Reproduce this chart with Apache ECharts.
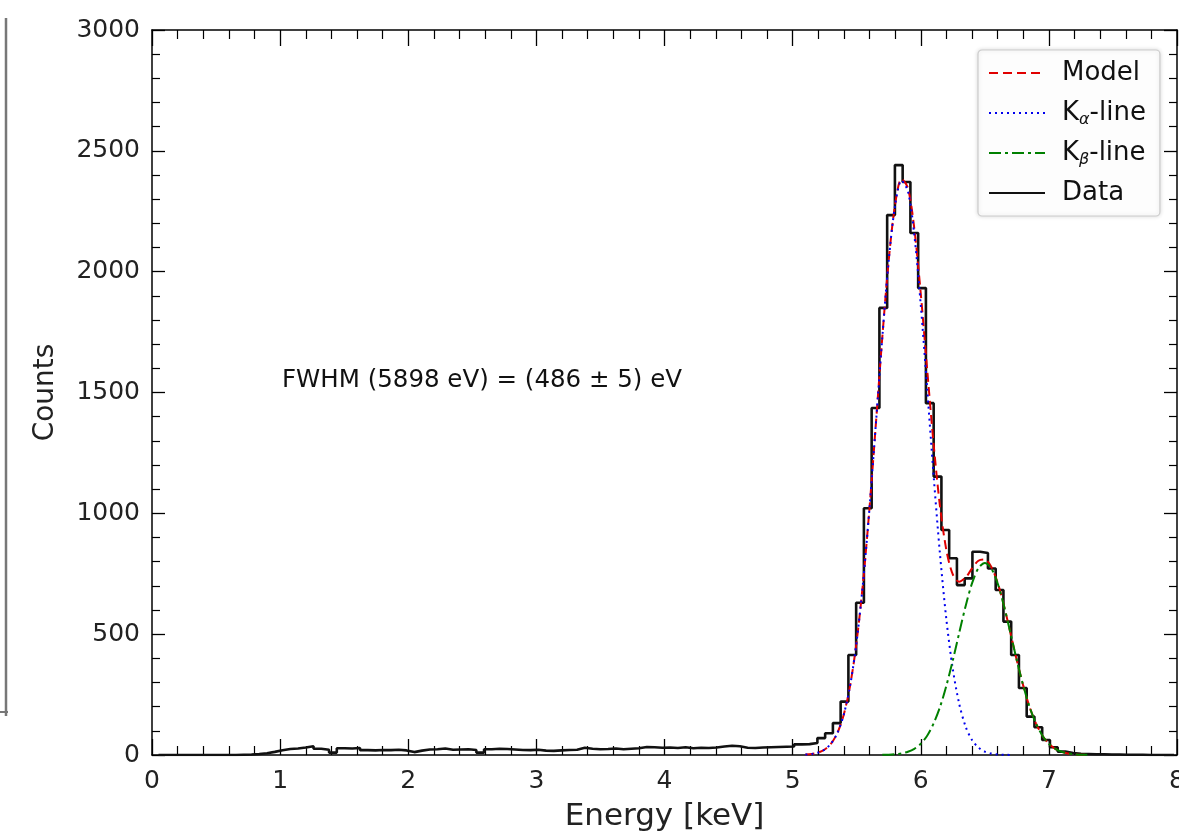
<!DOCTYPE html>
<html><head><meta charset="utf-8">
<script src="https://cdn.jsdelivr.net/npm/echarts@6/dist/echarts.min.js"></script>
<style>html,body{margin:0;padding:0;background:#fff}#c{width:1179px;height:840px}</style>
</head><body><div id="c"></div>
<script>
// ---- data ----
const binStart = 0.0508;   // keV, left edge of first histogram bin
const binWidth = 0.0605;   // keV
const counts = [
  0,0,0,0,0,0,0,0,0,0,
  1,2,4,7,13,20,25,27,31,36,
  26,22,10,28,27,29,20,19,21,20,
  22,19,12,18,23,24,27,22,23,24,
  21,10,24,26,25,23,21,20,22,18,
  17,19,21,22,30,26,24,25,27,24,
  26,28,33,32,30,31,29,32,28,30,
  29,31,35,38,36,30,29,31,32,33,
  34,35,44,45,50,70,90,132,221,414,
  630,1021,1436,1850,2234,2441,2371,2160,1932,1456,
  1152,931,814,703,731,841,836,772,683,552,
  414,277,159,115,62,32,14,8,5,4,
  3,3,2,2,1,1,1,0,0,0,0
];
const curveEnergy = [5.10,5.15,5.20,5.25,5.30,5.35,5.40,5.45,5.50,5.55,5.60,5.65,5.70,5.75,5.80,5.85,5.90,5.95,6.00,6.05,6.10,6.15,6.20,6.25,6.30,6.35,6.40,6.45,6.50,6.55,6.60,6.65,6.70,6.75,6.80,6.85,6.90,6.95,7.00,7.05,7.10,7.15,7.20,7.25,7.30];
const kAlpha = [1.7,4.4,10.3,22.7,47.2,92,169,291,471,716,1022,1372,1728,2046,2275,2377,2333,2151,1863,1516,1159,832,561,356,212,118,62,31,14,6.2,2.5,1.0,0.35,null,null,null,null,null,null,null,null,null,null,null,null];
const kBeta = [null,null,null,null,null,null,null,null,null,null,null,null,0.6,1.3,3.1,6.6,13.4,25.7,46.7,80,130,198,287,391,505,616,710,773,795,773,710,616,505,391,287,198,130,80,46.7,25.7,13.4,6.6,3.1,1.3,0.6];
const model = [1.7,4.4,10.3,22.7,47.2,92,169,291,471,716,1022,1372,1729,2047,2278,2384,2346,2177,1910,1596,1289,1030,848,747,717,734,772,804,809,779,713,617,505,391,287,198,130,80,46.7,25.7,13.4,6.6,3.1,1.3,0.6];
const xRange = [0, 8];
const yRange = [0, 3000];
const annotation = 'FWHM (5898 eV) = (486 ± 5) eV';

// ---- build ----
const FONT = 'DejaVu Sans';
const histPts = counts.map((c, i) => [+(binStart + i * binWidth).toFixed(4), c]);
histPts.push([+(binStart + counts.length * binWidth).toFixed(4), counts[counts.length - 1]]);
const pair = arr => curveEnergy.map((e, i) => [e, arr[i]]);

const tickX = {inside: true, length: 16, lineStyle: {color: '#000', width: 1.3}};
const minorX = {show: true, splitNumber: 5, length: 9, lineStyle: {color: '#000', width: 1.2}};
const tickY = {inside: true, length: 13, lineStyle: {color: '#000', width: 1.3}};
const minorY = {show: true, splitNumber: 5, length: 8, lineStyle: {color: '#000', width: 1.2}};
const axLine = {show: true, onZero: false, lineStyle: {color: '#000', width: 1.5}};

const chart = echarts.init(document.getElementById('c'), null, {renderer: 'canvas'});
chart.setOption({
  animation: false,
  backgroundColor: '#fff',
  grid: {left: 152, top: 30, right: 2, bottom: 85, containLabel: false, outerBoundsMode: 'none'},
  xAxis: [
    {type: 'value', min: xRange[0], max: xRange[1], interval: 1, position: 'bottom',
     axisLine: axLine, axisTick: tickX, minorTick: minorX, splitLine: {show: false},
     axisLabel: {margin: 14, fontSize: 25, color: '#222', fontFamily: FONT},
     name: 'Energy [keV]', nameLocation: 'middle', nameGap: 46,
     nameTextStyle: {fontSize: 31, color: '#222', fontFamily: FONT}},
    {type: 'value', min: xRange[0], max: xRange[1], interval: 1, position: 'top',
     axisLine: axLine, axisTick: tickX, minorTick: minorX, splitLine: {show: false},
     axisLabel: {show: false}}
  ],
  yAxis: [
    {type: 'value', min: yRange[0], max: yRange[1], interval: 500, position: 'left',
     axisLine: axLine, axisTick: tickY, minorTick: minorY, splitLine: {show: false},
     axisLabel: {margin: 12, fontSize: 25, color: '#222', fontFamily: FONT, formatter: v => String(v)},
     name: 'Counts', nameLocation: 'middle', nameGap: 92, nameRotate: 90,
     nameTextStyle: {fontSize: 28, color: '#222', fontFamily: FONT}},
    {type: 'value', min: yRange[0], max: yRange[1], interval: 500, position: 'right',
     axisLine: axLine, axisTick: tickY, minorTick: minorY, splitLine: {show: false},
     axisLabel: {show: false}}
  ],
  legend: {
    data: ['Model', 'Ka', 'Kb', 'Data'],
    orient: 'vertical', left: 978, top: 50,
    itemWidth: 56, itemHeight: 14, itemGap: 10,
    padding: [8, 14, 8, 10],
    borderColor: '#ccc', borderWidth: 1.2, borderRadius: 4,
    backgroundColor: 'rgba(255,255,255,0.92)',
    shadowBlur: 4, shadowColor: 'rgba(0,0,0,0.15)',
    itemStyle: {opacity: 0},
    textStyle: {fontSize: 26, lineHeight: 30, color: '#111', fontFamily: FONT, padding: [0, 0, 0, 12],
      rich: {s: {fontSize: 16, fontStyle: 'italic', fontFamily: FONT, color: '#111', verticalAlign: 'bottom', lineHeight: 22}}},
    formatter: n => n === 'Ka' ? 'K{s|α}-line' : n === 'Kb' ? 'K{s|β}-line' : n
  },
  graphic: [
    {type: 'text', left: 282, top: 368, style: {text: annotation, font: '24.5px "DejaVu Sans"', fill: '#111'}},
    {type: 'line', shape: {x1: 6, y1: 18, x2: 6, y2: 716}, style: {stroke: '#777', lineWidth: 2.5}},
    {type: 'line', shape: {x1: 0, y1: 712, x2: 8, y2: 712}, style: {stroke: '#777', lineWidth: 2}}
  ],
  series: [
    {name: 'Data', type: 'line', step: 'end', data: histPts, showSymbol: false, symbol: 'none',
     lineStyle: {color: '#111', width: 2.6}, itemStyle: {color: '#111'}, z: 2},
    {name: 'Model', type: 'line', data: pair(model), showSymbol: false, symbol: 'none', smooth: 0.3,
     lineStyle: {color: '#e00000', width: 2, type: [9, 5]}, itemStyle: {color: '#e00000'}, z: 3},
    {name: 'Ka', type: 'line', data: pair(kAlpha), showSymbol: false, symbol: 'none', smooth: 0.3,
     lineStyle: {color: '#0000ee', width: 2, type: [2, 4]}, itemStyle: {color: '#0000ee'}, z: 4},
    {name: 'Kb', type: 'line', data: pair(kBeta), showSymbol: false, symbol: 'none', smooth: 0.3,
     lineStyle: {color: '#008000', width: 2, type: [12, 4, 3, 4]}, itemStyle: {color: '#008000'}, z: 4}
  ]
});
</script></body></html>
